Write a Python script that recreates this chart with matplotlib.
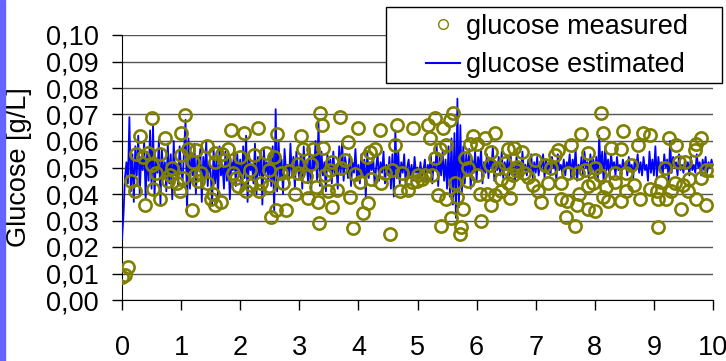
import numpy as np
import matplotlib
matplotlib.use('Agg')
from matplotlib import pyplot as plt
from matplotlib.lines import Line2D
from matplotlib.patches import Rectangle
from matplotlib.ticker import FuncFormatter

meas_t = [0.00, 0.05, 0.10, 0.16, 0.22, 0.24, 0.30, 0.36, 0.39, 0.44,
          0.50, 0.50, 0.53, 0.58, 0.64, 0.64, 0.72, 0.78, 0.81, 0.84,
          0.93, 0.98, 0.99, 1.00, 1.03, 1.07, 1.12, 1.18, 1.20, 1.23,
          1.26, 1.29, 1.34, 1.43, 1.43, 1.51, 1.54, 1.57, 1.57, 1.57,
          1.68, 1.70, 1.73, 1.79, 1.85, 1.87, 1.93, 1.96, 1.99, 2.06,
          2.10, 2.16, 2.18, 2.24, 2.30, 2.32, 2.35, 2.44, 2.49, 2.49,
          2.52, 2.58, 2.61, 2.62, 2.69, 2.72, 2.78, 2.83, 2.92, 2.97,
          2.97, 3.03, 3.06, 3.11, 3.14, 3.20, 3.23, 3.29, 3.31, 3.33,
          3.35, 3.38, 3.40, 3.43, 3.49, 3.52, 3.55, 3.55, 3.63, 3.69,
          3.70, 3.77, 3.83, 3.86, 3.91, 3.94, 4.00, 4.03, 4.08, 4.14,
          4.17, 4.19, 4.22, 4.28, 4.36, 4.39, 4.45, 4.53, 4.57, 4.62,
          4.66, 4.70, 4.73, 4.84, 4.90, 4.93, 4.99, 5.01, 5.07, 5.12,
          5.18, 5.21, 5.24, 5.29, 5.29, 5.35, 5.38, 5.40, 5.43, 5.49,
          5.49, 5.55, 5.57, 5.60, 5.63, 5.66, 5.72, 5.74, 5.77, 5.80,
          5.86, 5.86, 5.88, 5.94, 6.00, 6.00, 6.05, 6.08, 6.14, 6.18,
          6.22, 6.25, 6.25, 6.31, 6.31, 6.36, 6.42, 6.42, 6.48, 6.53,
          6.53, 6.56, 6.62, 6.64, 6.68, 6.67, 6.76, 6.81, 6.87, 6.95,
          6.98, 7.04, 7.09, 7.15, 7.21, 7.26, 7.32, 7.38, 7.43, 7.43,
          7.52, 7.53, 7.55, 7.60, 7.67, 7.70, 7.72, 7.74, 7.77, 7.83,
          7.88, 7.88, 7.88, 7.97, 8.00, 8.00, 8.08, 8.11, 8.14, 8.14,
          8.19, 8.22, 8.28, 8.34, 8.34, 8.45, 8.45, 8.47, 8.53, 8.53,
          8.62, 8.67, 8.73, 8.76, 8.81, 8.93, 8.93, 9.06, 9.07, 9.07,
          9.12, 9.18, 9.21, 9.26, 9.29, 9.35, 9.38, 9.43, 9.46, 9.49,
          9.52, 9.57, 9.60, 9.69, 9.72, 9.72, 9.80, 9.80, 9.88, 9.88,
          9.97, 9.99]
meas_g = [0.0087, 0.0094, 0.0125, 0.045, 0.041, 0.055, 0.062, 0.054, 0.036, 0.0555,
          0.0688, 0.051, 0.042, 0.048, 0.055, 0.038, 0.061, 0.045, 0.047, 0.050,
          0.044, 0.041, 0.063, 0.0547, 0.046, 0.0698, 0.057, 0.034, 0.052, 0.047,
          0.0566, 0.045, 0.048, 0.058, 0.044, 0.038, 0.040, 0.0555, 0.052, 0.036,
          0.037, 0.055, 0.053, 0.057, 0.064, 0.048, 0.046, 0.043, 0.054, 0.063,
          0.041, 0.049, 0.0435, 0.0547, 0.065, 0.041, 0.044, 0.0555, 0.049, 0.043,
          0.0315, 0.054, 0.034, 0.0625, 0.048, 0.044, 0.034, 0.0487, 0.040, 0.048,
          0.0515, 0.062, 0.057, 0.0467, 0.0385, 0.0515, 0.057, 0.0425, 0.037, 0.029,
          0.0705, 0.066, 0.0575, 0.047, 0.041, 0.049, 0.035, 0.052, 0.0415, 0.069,
          0.0497, 0.053, 0.0595, 0.039, 0.0273, 0.0474, 0.065, 0.0447, 0.0327, 0.054,
          0.0367, 0.056, 0.0455, 0.057, 0.064, 0.044, 0.048, 0.025, 0.049, 0.0585,
          0.066, 0.041, 0.048, 0.0415, 0.0447, 0.065, 0.045, 0.047, 0.0456, 0.047,
          0.066, 0.0613, 0.047, 0.0537, 0.0687, 0.0396, 0.057, 0.028, 0.065, 0.0585,
          0.0383, 0.068, 0.031, 0.0705, 0.044, 0.039, 0.025, 0.0277, 0.0343, 0.0537,
          0.045, 0.0497, 0.059, 0.062, 0.047, 0.0587, 0.040, 0.030, 0.061, 0.040,
          0.051, 0.036, 0.056, 0.0395, 0.063, 0.050, 0.0455, 0.041, 0.0516, 0.044,
          0.057, 0.0385, 0.047, 0.0575, 0.0503, 0.049, 0.056, 0.0478, 0.0466, 0.0434,
          0.053, 0.041, 0.037, 0.051, 0.044, 0.050, 0.0547, 0.0565, 0.038, 0.044,
          0.0315, 0.0375, 0.048, 0.0585, 0.028, 0.036, 0.048, 0.040, 0.0625, 0.049,
          0.043, 0.0345, 0.0555, 0.044, 0.0335, 0.050, 0.047, 0.0705, 0.039, 0.063,
          0.0426, 0.0375, 0.0575, 0.048, 0.0445, 0.0375, 0.057, 0.0638, 0.048, 0.041,
          0.051, 0.0434, 0.0585, 0.038, 0.063, 0.042, 0.0622, 0.041, 0.038, 0.0277,
          0.0445, 0.050, 0.038, 0.061, 0.041, 0.044, 0.0585, 0.052, 0.0345, 0.0434,
          0.052, 0.041, 0.0455, 0.0566, 0.038, 0.0587, 0.046, 0.061, 0.049, 0.036,
          0.049]
meas_t = meas_t[:len(meas_g)]

# estimated glucose, one value every 0.025 time units from 0 to 10
est_g = [
    0.023, 0.032, 0.046, 0.052, 0.044, 0.069, 0.041, 0.055, 0.037, 0.058, 0.047, 0.062, 0.040, 0.054, 0.049, 0.060, 0.038, 0.056, 0.045, 0.064,
    0.042, 0.066, 0.039, 0.053, 0.048, 0.061, 0.036, 0.057, 0.046, 0.052, 0.041, 0.059, 0.044, 0.055, 0.038, 0.060, 0.047, 0.051, 0.043, 0.058,
    0.049, 0.045, 0.056, 0.068, 0.033, 0.061, 0.042, 0.055, 0.047, 0.059, 0.040, 0.053, 0.050, 0.057, 0.037, 0.054, 0.046, 0.060, 0.043, 0.052,
    0.048, 0.036, 0.057, 0.044, 0.053, 0.039, 0.058, 0.047, 0.051, 0.042, 0.056, 0.045, 0.054, 0.038, 0.052, 0.049, 0.057, 0.043, 0.055, 0.047,
    0.053, 0.041, 0.058, 0.046, 0.062, 0.037, 0.055, 0.049, 0.051, 0.044, 0.059, 0.040, 0.054, 0.047, 0.056, 0.036, 0.057, 0.048, 0.052, 0.045,
    0.055, 0.043, 0.058, 0.033, 0.072, 0.041, 0.060, 0.046, 0.053, 0.040, 0.057, 0.049, 0.051, 0.044, 0.059, 0.047, 0.054, 0.042, 0.056, 0.050,
    0.046, 0.055, 0.042, 0.058, 0.048, 0.052, 0.044, 0.057, 0.040, 0.054, 0.049, 0.060, 0.045, 0.067, 0.043, 0.056, 0.047, 0.052, 0.041, 0.055,
    0.049, 0.053, 0.044, 0.056, 0.047, 0.051, 0.042, 0.058, 0.048, 0.060, 0.045, 0.054, 0.050, 0.046, 0.055, 0.043, 0.052, 0.048, 0.057, 0.046,
    0.051, 0.044, 0.055, 0.047, 0.053, 0.039, 0.056, 0.046, 0.052, 0.049, 0.054, 0.043, 0.050, 0.055, 0.045, 0.052, 0.048, 0.056, 0.044, 0.051,
    0.047, 0.054, 0.042, 0.055, 0.039, 0.064, 0.046, 0.056, 0.044, 0.052, 0.048, 0.055, 0.043, 0.050, 0.053, 0.046, 0.051, 0.045, 0.054, 0.048,
    0.050, 0.046, 0.052, 0.047, 0.049, 0.053, 0.045, 0.051, 0.048, 0.055, 0.044, 0.052, 0.049, 0.058, 0.043, 0.054, 0.047, 0.056, 0.045, 0.053,
    0.042, 0.058, 0.039, 0.061, 0.036, 0.063, 0.031, 0.076, 0.035, 0.066, 0.040, 0.058, 0.044, 0.055, 0.047, 0.057, 0.042, 0.053, 0.048, 0.056,
    0.045, 0.054, 0.049, 0.057, 0.044, 0.052, 0.048, 0.055, 0.046, 0.053, 0.050, 0.058, 0.045, 0.051, 0.049, 0.054, 0.047, 0.056, 0.046, 0.052,
    0.049, 0.053, 0.047, 0.055, 0.048, 0.051, 0.045, 0.054, 0.050, 0.052, 0.046, 0.056, 0.049, 0.051, 0.047, 0.053, 0.050, 0.055, 0.046, 0.052,
    0.048, 0.054, 0.047, 0.052, 0.050, 0.055, 0.046, 0.053, 0.049, 0.051, 0.047, 0.054, 0.050, 0.052, 0.045, 0.055, 0.049, 0.051, 0.048, 0.053,
    0.047, 0.052, 0.050, 0.055, 0.046, 0.053, 0.049, 0.057, 0.045, 0.051, 0.048, 0.054, 0.047, 0.056, 0.050, 0.052, 0.046, 0.055, 0.049, 0.053,
    0.047, 0.054, 0.045, 0.062, 0.048, 0.056, 0.044, 0.058, 0.049, 0.053, 0.046, 0.055, 0.050, 0.052, 0.047, 0.054, 0.049, 0.051, 0.048, 0.053,
    0.050, 0.052, 0.047, 0.054, 0.049, 0.051, 0.046, 0.053, 0.050, 0.055, 0.048, 0.052, 0.047, 0.054, 0.049, 0.051, 0.045, 0.056, 0.048, 0.053,
    0.047, 0.058, 0.046, 0.054, 0.049, 0.052, 0.047, 0.055, 0.050, 0.053, 0.045, 0.060, 0.048, 0.054, 0.050, 0.052, 0.047, 0.055, 0.049, 0.051,
    0.048, 0.053, 0.050, 0.052, 0.047, 0.054, 0.049, 0.051, 0.048, 0.055, 0.050, 0.052, 0.047, 0.053, 0.049, 0.054, 0.048, 0.052, 0.050, 0.053,
    0.050]
est_t = np.linspace(0, 10, len(est_g))

x_ticks = list(range(0, 11))
y_ticks = [0.00, 0.01, 0.02, 0.03, 0.04, 0.05, 0.06, 0.07, 0.08, 0.09, 0.10]

plt.rcParams['font.family'] = ['Liberation Sans', 'DejaVu Sans']
fs = 19.5
W, H = 726, 361

fig = plt.figure(figsize=(W/100, H/100), dpi=100)
ax = fig.add_axes([122/W, 61/H, 591/W, 265/H])

# blue strip at the left edge of the picture
fig.patches.append(Rectangle((0, 0), 5/W, 1, transform=fig.transFigure,
                             color='#6464ff', zorder=0))

ax.plot(est_t, est_g, color='#0000ff', lw=1.3, zorder=3)
ax.plot(meas_t, meas_g, 'o', mfc='none', mec='#808000', mew=1.9, ms=8.8, zorder=4)

ax.set_xlim(0, 10)
ax.set_ylim(0, 0.10)
ax.set_xticks(x_ticks)
ax.set_yticks(y_ticks)
ax.yaxis.set_major_formatter(FuncFormatter(lambda v, p: ('%.2f' % v).replace('.', ',')))
ax.tick_params(axis='both', labelsize=fs, length=7, width=1, direction='out')
ax.tick_params(axis='y', pad=10)
ax.tick_params(axis='x', pad=18)
ax.yaxis.grid(True, color='#555555', lw=1)
ax.set_axisbelow(True)
for s in ['top', 'right']:
    ax.spines[s].set_visible(False)
ax.set_ylabel('Glucose [g/L]', fontsize=fs)
ax.yaxis.set_label_coords(-0.152, 0.5)

# legend box (white, black edge) sits partly outside the axes
fig.patches.append(Rectangle((386/W, 1 - 83/H), 336/W, 76/H, transform=fig.transFigure,
                             facecolor='white', edgecolor='black', lw=1, zorder=4))
handles = [Line2D([], [], ls='none', marker='o', mfc='none', mec='#808000', mew=1, ms=7),
           Line2D([], [], color='#0000ff', lw=1.5)]
leg = fig.legend(handles, ['glucose measured', 'glucose estimated'],
                 loc='center left', bbox_to_anchor=(426/W, 1 - 46/H),
                 fontsize=fs, frameon=False, handlelength=1.26,
                 borderpad=0, labelspacing=0.47, handletextpad=0.22, borderaxespad=0)
leg.set_zorder(5)

fig.savefig('out.png', dpi=100)
